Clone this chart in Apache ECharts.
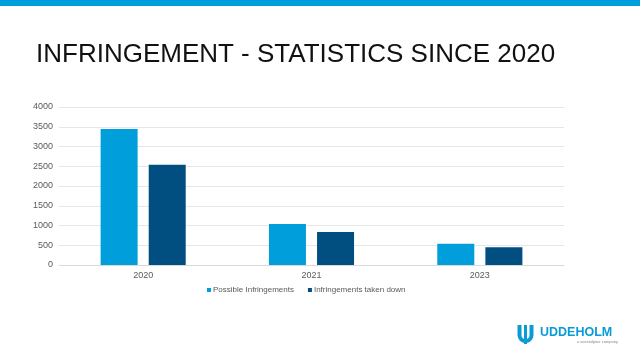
<!DOCTYPE html>
<html>
<head>
<meta charset="utf-8">
<script src="https://cdn.jsdelivr.net/npm/echarts@6/dist/echarts.min.js"></script>
<style>
html,body{margin:0;padding:0;background:#fff;}
#chart{width:640px;height:360px;}
</style>
</head>
<body>
<div id="chart"></div>
<script>
const categories = ['2020', '2021', '2023'];
const possibleInfringements = [3440, 1035, 535];
const takenDown = [2535, 835, 450];
const seriesNames = ['Possible Infringements', 'Infringements taken down'];
const yTicks = [0, 500, 1000, 1500, 2000, 2500, 3000, 3500, 4000];

const chart = echarts.init(document.getElementById('chart'), null, {renderer: 'canvas'});
const font = 'Liberation Sans, Arial, sans-serif';
chart.setOption({
  backgroundColor: '#ffffff',
  animation: false,
  title: {
    text: 'INFRINGEMENT - STATISTICS SINCE 2020',
    left: 31, top: 37,
    textStyle: {fontFamily: font, fontWeight: 'normal', fontSize: 26, color: '#111111'}
  },
  legend: {
    data: seriesNames,
    bottom: 61, left: 202,
    itemWidth: 4, itemHeight: 4, itemGap: 14,
    icon: 'rect',
    textStyle: {fontFamily: font, fontSize: 8, color: '#595959', padding: [0,0,0,-3]}
  },
  grid: {left: 59, right: 76, top: 107, bottom: 95, containLabel: false},
  xAxis: {
    type: 'category', data: categories,
    axisLine: {lineStyle: {color: '#d9d9d9'}},
    axisTick: {show: false},
    axisLabel: {fontFamily: font, fontSize: 9, color: '#595959', margin: 6}
  },
  yAxis: {
    type: 'value', min: yTicks[0], max: yTicks[yTicks.length-1], interval: 500,
    axisLine: {show: false}, axisTick: {show: false},
    splitLine: {lineStyle: {color: '#e6e6e6'}},
    axisLabel: {fontFamily: font, fontSize: 9, color: '#595959', margin: 6, formatter: v => String(v)}
  },
  series: [
    {name: seriesNames[0], type: 'bar', data: possibleInfringements, barWidth: 37, barGap: '30%', itemStyle: {color: '#009fdb'}},
    {name: seriesNames[1], type: 'bar', data: takenDown, barWidth: 37, itemStyle: {color: '#004f80'}}
  ],
  graphic: [
    {type: 'rect', shape: {x: 0, y: 0, width: 640, height: 6}, style: {fill: '#009fdb'}},
    {type: 'group', left: 517, top: 325, children: [
      {type: 'rect', shape: {x: 0, y: 0, width: 4, height: 10}, style: {fill: '#0a9ad6'}},
      {type: 'rect', shape: {x: 12, y: 0, width: 4, height: 10}, style: {fill: '#0a9ad6'}},
      {type: 'arc', shape: {cx: 8, cy: 10, r: 6, startAngle: 0, endAngle: Math.PI}, style: {stroke: '#0a9ad6', lineWidth: 4, fill: null}},
      {type: 'rect', shape: {x: 6.5, y: 0, width: 3, height: 19}, style: {fill: '#0a9ad6'}}
    ]},
    {type: 'text', left: 540, top: 326, style: {text: 'UDDEHOLM', font: 'bold 12.5px Liberation Sans, Arial, sans-serif', fill: '#0a9ad6'}},
    {type: 'text', left: 577, top: 340, style: {text: 'a voestalpine company', font: '4px Liberation Sans, Arial, sans-serif', fill: '#888888'}}
  ]
});
</script>
</body>
</html>
